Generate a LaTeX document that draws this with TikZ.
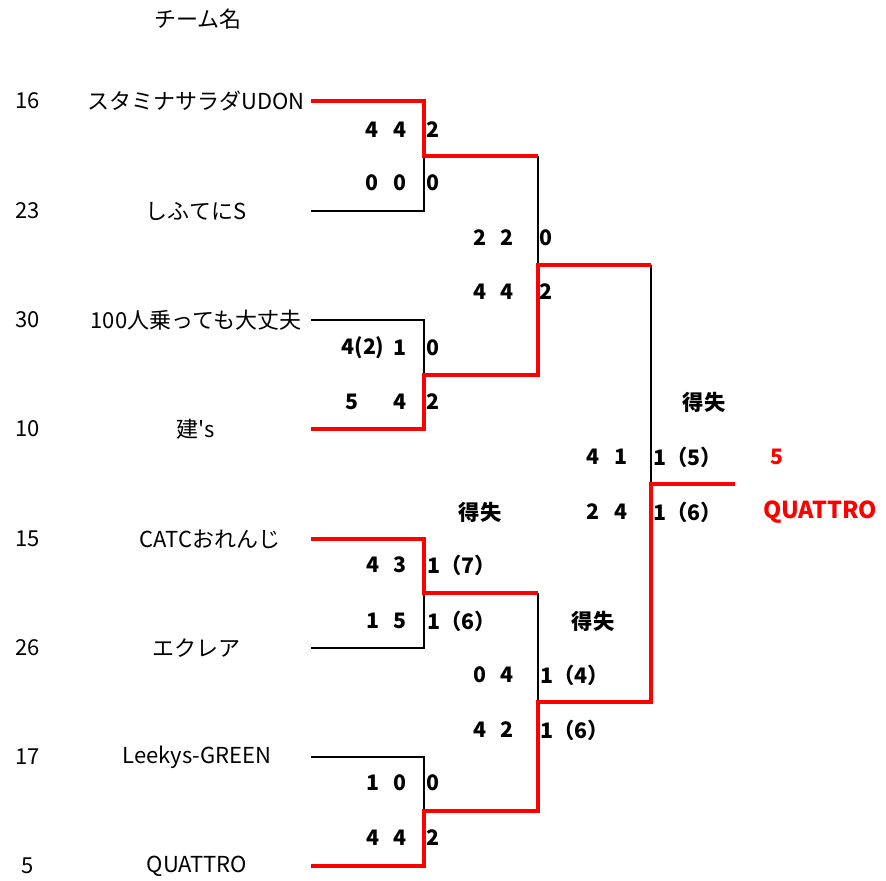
\documentclass[tikz,border=0pt]{standalone}
\usepackage{fontspec}
\setmainfont{Noto Sans CJK JP}
\begin{document}
\begin{tikzpicture}[x=0.75pt,y=-0.75pt,
  lbl/.style={inner sep=0pt,font=\fontsize{16.5}{19}\selectfont},
  sc/.style={inner sep=0pt,font=\fontsize{16}{19}\selectfont\bfseries},
  scw/.style={sc,anchor=west},
  win/.style={draw=red,line width=2.4pt},
  lose/.style={draw=black,line width=1pt}]
\useasboundingbox (0,0) rectangle (886,881);
\fill[white] (0,0) rectangle (886,881);
% header
\node[lbl] (hdr) at (198,19) {チーム名};
% seeds
\foreach \n/\s/\y in {s1/16/101,s2/23/211,s3/30/320,s4/10/429,s5/15/539,s6/26/648,s7/17/757,s8/5/866}
  \node[lbl] (\n) at (28,\y) {\s};
% teams
\node[lbl] (t1) at (196,101) {スタミナサラダUDON};
\node[lbl] (t2) at (196,211) {しふてにS};
\node[lbl] (t3) at (196,320) {100人乗っても大丈夫};
\node[lbl] (t4) at (196,429) {建\textquotesingle s};
\node[lbl] (t5) at (210,539) {CATCおれんじ};
\node[lbl] (t6) at (196,648) {エクレア};
\node[lbl] (t7) at (197,757) {Leekys-GREEN};
\node[lbl] (t8) at (197,866) {QUATTRO};
% bracket points
\foreach \n/\y in {1/101,2/211,3/320,4/429,5/539,6/648,7/757,8/866}{
  \coordinate (a\n) at (311,\y);
  \coordinate (b\n) at (424,\y);
}
\coordinate (m1) at (424,156); \coordinate (n1) at (538,156);
\coordinate (m2) at (424,375); \coordinate (n2) at (538,375);
\coordinate (m3) at (424,593); \coordinate (n3) at (538,593);
\coordinate (m4) at (424,811); \coordinate (n4) at (538,811);
\coordinate (p1) at (538,265); \coordinate (q1) at (651,265);
\coordinate (p2) at (538,702); \coordinate (q2) at (651,702);
\coordinate (f) at (651,484); \coordinate (g) at (735,484);
% losers (black)
\draw[lose] (a2) -- (b2) -- (m1);
\draw[lose] (a3) -- (b3) -- (m2);
\draw[lose] (a6) -- (b6) -- (m3);
\draw[lose] (a7) -- (b7) -- (m4);
\draw[lose] (n1) -- (p1);
\draw[lose] (n3) -- (p2);
\draw[lose] (q1) -- (f);
% winners (red)
\draw[win] (a1) -- (b1) -- (m1) -- (n1);
\draw[win] (a4) -- (b4) -- (m2) -- (n2) -- (p1) -- (q1);
\draw[win] (a5) -- (b5) -- (m3) -- (n3);
\draw[win] (a8) -- (b8) -- (m4) -- (n4) -- (p2) -- (q2) -- (f) -- (g);
% round 1 scores
\node[sc] (r1a) at (372,130) {4}; \node[sc] (r1b) at (400,130) {4}; \node[sc] (r1c) at (433,130) {2};
\node[sc] (r1d) at (372,183) {0}; \node[sc] (r1e) at (400,183) {0}; \node[sc] (r1f) at (433,183) {0};
\node[sc] (r2a) at (363,348) {4(2)}; \node[sc] (r2b) at (400,348) {1}; \node[sc] (r2c) at (433,348) {0};
\node[sc] (r2d) at (352,402) {5}; \node[sc] (r2e) at (400,402) {4}; \node[sc] (r2f) at (433,402) {2};
\node[sc] (r3a) at (373,565) {4}; \node[sc] (r3b) at (400,565) {3}; \node[scw] (r3c) at (427,565) {1（7）};
\node[sc] (r3d) at (373,621) {1}; \node[sc] (r3e) at (400,621) {5}; \node[scw] (r3f) at (427,621) {1（6）};
\node[sc] (r4a) at (373,783) {1}; \node[sc] (r4b) at (400,783) {0}; \node[sc] (r4c) at (433,783) {0};
\node[sc] (r4d) at (373,838) {4}; \node[sc] (r4e) at (400,838) {4}; \node[sc] (r4f) at (433,838) {2};
\node[sc] (gd1) at (480,512) {得失};
% round 2 scores
\node[sc] (s1a) at (480,238) {2}; \node[sc] (s1b) at (507,238) {2}; \node[sc] (s1c) at (546,238) {0};
\node[sc] (s1d) at (480,292) {4}; \node[sc] (s1e) at (507,292) {4}; \node[sc] (s1f) at (546,292) {2};
\node[sc] (gd2) at (593,621) {得失};
\node[sc] (s2a) at (480,675) {0}; \node[sc] (s2b) at (507,675) {4}; \node[scw] (s2c) at (540,675) {1（4）};
\node[sc] (s2d) at (480,730) {4}; \node[sc] (s2e) at (507,730) {2}; \node[scw] (s2f) at (540,730) {1（6）};
% final
\node[sc] (gd3) at (704,402) {得失};
\node[sc] (fa) at (593,457) {4}; \node[sc] (fb) at (621,457) {1}; \node[scw] (fc) at (653,457) {1（5）};
\node[sc] (fd) at (593,512) {2}; \node[sc] (fe) at (621,512) {4}; \node[scw] (ff) at (653,512) {1（6）};
\node[sc,text=red] (ws) at (777,457) {5};
\node[sc,text=red,font=\fontsize{17.5}{20}\selectfont\bfseries] (wn) at (820,512) {QUATTRO};
\end{tikzpicture}
\end{document}
